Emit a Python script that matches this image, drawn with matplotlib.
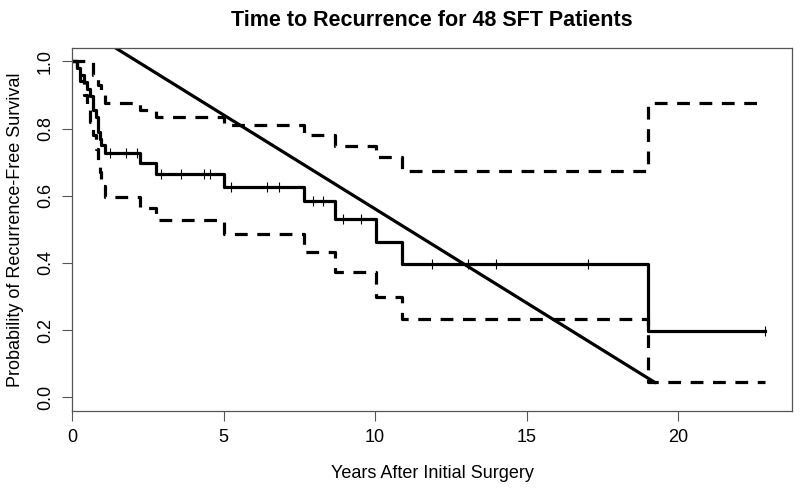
import matplotlib
matplotlib.use('Agg')
import matplotlib.pyplot as plt
import numpy as np

plt.rcParams['font.family'] = ['Liberation Sans Narrow', 'Liberation Sans', 'DejaVu Sans']

# Kaplan-Meier estimate (step times, survival, 95% CI)
step_times = [0, 0.15, 0.25, 0.4, 0.48, 0.6, 0.7, 0.8, 0.86, 0.92, 0.97, 1.08,
              2.24, 2.78, 5.0, 7.66, 8.69, 10.02, 10.87, 19.0]
surv = [1.0, 0.979, 0.958, 0.9375, 0.917, 0.896, 0.854, 0.833, 0.79, 0.77, 0.75, 0.727,
        0.697, 0.665, 0.626, 0.584, 0.531, 0.462, 0.398, 0.197]
upper = [1.0, 1.0, 1.0, 1.0, 1.0, 1.0, 0.96, 0.96, 0.93, 0.93, 0.90, 0.877,
         0.854, 0.833, 0.81, 0.78, 0.747, 0.715, 0.674, 0.876]
lower = [1.0, 0.96, 0.94, 0.90, 0.87, 0.82, 0.78, 0.74, 0.70, 0.67, 0.63, 0.596,
         0.565, 0.529, 0.487, 0.432, 0.373, 0.30, 0.234, 0.046]
end_time = 22.86

censor_times = [1.24, 1.77, 2.13, 2.93, 3.58, 4.36, 4.55, 5.26, 6.43, 6.83, 7.94, 8.27,
                8.95, 9.52, 11.86, 13.07, 14.0, 17.03, 22.86]

# straight line overlaid on the curve
line_x = [0, 19.22]
line_y = [1.12, 0.045]


def step_xy(times, values, end):
    x = list(times) + [end]
    y = list(values) + [values[-1]]
    return x, y


fig = plt.figure(figsize=(8, 4.88), dpi=100)
ax = fig.add_axes([0.09, 0.158, 0.9, 0.744])

x, y = step_xy(step_times, surv, end_time)
ax.step(x, y, where='post', color='black', lw=2.3)
x, y = step_xy(step_times, upper, end_time)
ax.step(x, y, where='post', color='black', lw=2.3, ls=(0, (4, 3)))
x, y = step_xy(step_times, lower, end_time)
ax.step(x, y, where='post', color='black', lw=2.3, ls=(0, (4, 3)))

idx = np.searchsorted(step_times, censor_times, side='right') - 1
censor_y = np.array(surv)[idx]
ax.plot(censor_times, censor_y, ls='none', marker='|', color='black', ms=7, mew=0.8)

ax.plot(line_x, line_y, color='black', lw=2.3)

ax.set_xlim(0, 23.75)
ax.set_ylim(-0.04, 1.04)
ax.set_xticks([0, 5, 10, 15, 20])
ax.set_yticks([0.0, 0.2, 0.4, 0.6, 0.8, 1.0])
ax.set_yticklabels(['0.0', '0.2', '0.4', '0.6', '0.8', '1.0'], rotation=90, va='center')
ax.tick_params(direction='out', length=7, width=0.8, color='#555555', labelsize=13, pad=6)
for s in ax.spines.values():
    s.set_color('#555555')
    s.set_linewidth(0.9)

ax.set_xlabel('Years After Initial Surgery', fontsize=13, labelpad=14)
ax.set_ylabel('Probability of Recurrence-Free Survival', fontsize=13, labelpad=9)
ax.set_title('Time to Recurrence for 48 SFT Patients', fontsize=15.5, fontweight='bold', pad=16)

fig.savefig('out.png', dpi=100)
